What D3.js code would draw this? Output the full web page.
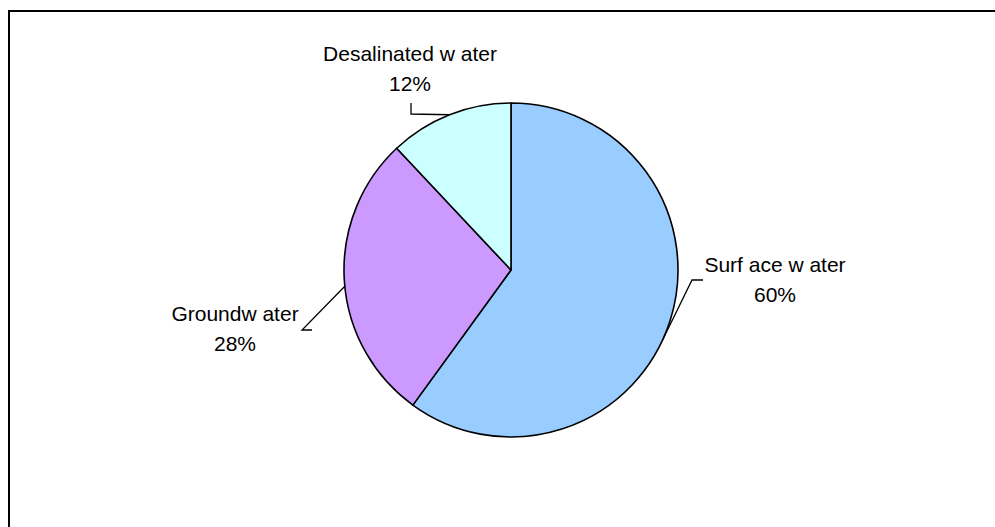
<!DOCTYPE html>
<html>
<head>
<meta charset="utf-8">
<script src="https://cdn.jsdelivr.net/npm/d3@7"></script>
<style>
  html, body { margin: 0; padding: 0; background: #fff; }
  svg { display: block; }
</style>
</head>
<body>
<div id="chart"></div>
<script>
// Data
const categories = ['Surf ace w ater', 'Groundw ater', 'Desalinated w ater'];
const shares = [60, 28, 12];
const colors = ['#99CCFF', '#CC99FF', '#CCFFFF'];

// Label layout (offsets from pie centre): text centre, leader elbow, and
// how far (degrees) the leader end sits from the slice mid-angle
const labelPos = [
  { tx: 264, ty: 2, ex: 181, ey: 10, vx: 192, vy: 10, da: 7 },
  { tx: -276, ty: 51, ex: -209, ey: 60, vx: -199, vy: 60, da: -2 },
  { tx: -101, ty: -209, ex: -100, ey: -156, vx: -100, vy: -167, da: 0 }
];

const width = 995, height = 527;
const cx = 511, cy = 270, radius = 167;

const svg = d3.select('#chart')
  .append('svg')
  .attr('width', width)
  .attr('height', height);

// Chart area border (runs off the right and bottom of the picture)
svg.append('rect')
  .attr('x', 9)
  .attr('y', 11)
  .attr('width', width + 20)
  .attr('height', height + 20)
  .style('fill', '#fff')
  .style('stroke', '#000')
  .style('stroke-width', 2);

const pie = d3.pie().sort(null).value(d => d)(shares);
const arc = d3.arc().innerRadius(0).outerRadius(radius);

const g = svg.append('g').attr('transform', `translate(${cx},${cy})`);

g.selectAll('.slice')
  .data(pie)
  .enter()
  .append('path')
  .attr('class', 'slice')
  .attr('d', arc)
  .style('fill', (d, i) => colors[i])
  .style('stroke', '#000')
  .style('stroke-width', 1.6)
  .style('stroke-linejoin', 'round');

// Leader lines: from label elbow to the slice's outer arc
g.selectAll('.leader')
  .data(pie)
  .enter()
  .append('path')
  .attr('class', 'leader')
  .attr('d', (d, i) => {
    const p = labelPos[i];
    const a = (d.startAngle + d.endAngle) / 2 + p.da * Math.PI / 180;
    const px = Math.sin(a) * radius;
    const py = -Math.cos(a) * radius;
    return `M${p.vx},${p.vy} L${p.ex},${p.ey} L${px},${py}`;
  })
  .style('fill', 'none')
  .style('stroke', '#000')
  .style('stroke-width', 1.3);

const labels = g.selectAll('.label')
  .data(pie)
  .enter()
  .append('text')
  .attr('class', 'label')
  .attr('text-anchor', 'middle')
  .style('font-family', '"Liberation Sans", Arial, sans-serif')
  .style('font-size', '21px')
  .style('fill', '#000');

labels.append('tspan')
  .attr('x', (d, i) => labelPos[i].tx)
  .attr('y', (d, i) => labelPos[i].ty)
  .text((d, i) => categories[i]);

labels.append('tspan')
  .attr('x', (d, i) => labelPos[i].tx)
  .attr('y', (d, i) => labelPos[i].ty + 30)
  .text(d => d.data + '%');
</script>
</body>
</html>
